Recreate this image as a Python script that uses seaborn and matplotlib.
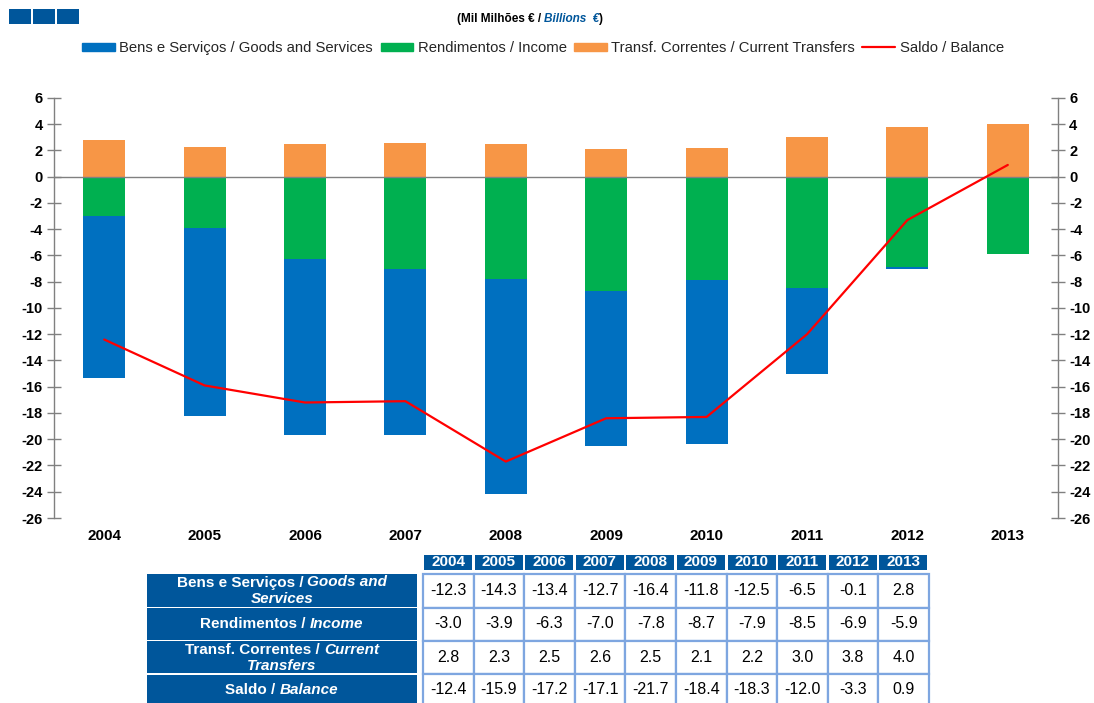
import numpy as np
import pandas as pd
import matplotlib
matplotlib.use("Agg")
import matplotlib.pyplot as plt
import seaborn as sns
from matplotlib.patches import Rectangle, Patch
from matplotlib.lines import Line2D

# ---------------- data ----------------
years = ["2004", "2005", "2006", "2007", "2008", "2009", "2010", "2011", "2012", "2013"]
goods = [-12.3, -14.3, -13.4, -12.7, -16.4, -11.8, -12.5, -6.5, -0.1, 2.8]
income = [-3.0, -3.9, -6.3, -7.0, -7.8, -8.7, -7.9, -8.5, -6.9, -5.9]
transfers = [2.8, 2.3, 2.5, 2.6, 2.5, 2.1, 2.2, 3.0, 3.8, 4.0]
balance = [-12.4, -15.9, -17.2, -17.1, -21.7, -18.4, -18.3, -12.0, -3.3, 0.9]
yticks = list(range(-26, 7, 2))
series_labels = ["Bens e Serviços / Goods and Services", "Rendimentos / Income",
                 "Transf. Correntes / Current Transfers", "Saldo / Balance"]

BLUE = "#0070C0"
GREEN = "#00B050"
ORANGE = "#F79646"
RED = "#FF0000"
DARK = "#00569B"
GRID = "#7EA6E0"
AXC = "#808080"

W, H = 1094, 703
sns.set_theme(style="white")
plt.rcParams['font.family'] = ['Liberation Sans', 'DejaVu Sans']
plt.rcParams['axes.unicode_minus'] = False

fig = plt.figure(figsize=(W / 100, H / 100), dpi=100)
fig.patch.set_facecolor("white")


def fx(x):
    return x / W


def fy(y):
    return 1 - y / H


ax = fig.add_axes([fx(54), fy(518), (1058 - 54) / W, (518 - 98) / H])
ax.set_facecolor("white")

df = pd.DataFrame({"year": years, "goods": goods, "income": income,
                   "transfers": transfers, "balance": balance})
df["goods_stack"] = df["goods"] + df["income"]

sns.barplot(data=df, x="year", y="goods_stack", color=BLUE, saturation=1,
            width=0.42, linewidth=0, ax=ax, errorbar=None)
sns.barplot(data=df, x="year", y="income", color=GREEN, saturation=1,
            width=0.42, linewidth=0, ax=ax, errorbar=None)
sns.barplot(data=df, x="year", y="transfers", color=ORANGE, saturation=1,
            width=0.42, linewidth=0, ax=ax, errorbar=None)
ax.axhline(0, color=AXC, lw=1, zorder=3)
sns.lineplot(x=np.arange(len(years)), y=df["balance"].values, color=RED,
             lw=1.6, ax=ax, zorder=4)

ax.set_xlim(-0.5, len(years) - 0.5)
ax.set_ylim(-26, 6)
ax.set_yticks(yticks)
ax.set_xticks(np.arange(len(years)))
ax.set_xticklabels(years)
ax.set_xlabel("")
ax.set_ylabel("")
for s in ["top", "bottom"]:
    ax.spines[s].set_visible(False)
for s in ["left", "right"]:
    ax.spines[s].set_visible(True)
    ax.spines[s].set_color(AXC)
    ax.spines[s].set_linewidth(1)
ax.tick_params(axis="y", which="both", left=True, right=True, labelleft=True,
               labelright=True, direction="inout", length=10, width=1,
               color=AXC, labelsize=10.5, labelcolor="black", pad=3)
ax.tick_params(axis="x", length=0, labelsize=11, pad=8, labelcolor="black")
for t in ax.yaxis.get_major_ticks():
    t.label1.set_fontweight("bold")
    t.label2.set_fontweight("bold")
for t in ax.get_xticklabels():
    t.set_fontweight("bold")
ax.grid(False)

# ---------------- legend ----------------
handles = [Patch(color=BLUE), Patch(color=GREEN), Patch(color=ORANGE),
           Line2D([0], [0], color=RED, lw=1.6)]
fig.legend(handles, series_labels, loc="center", bbox_to_anchor=(fx(543), fy(48)),
           ncol=4, frameon=False, fontsize=10.7, handlelength=2.2, handleheight=0.42,
           columnspacing=0.5, handletextpad=0.3)

# ---------------- decorations ----------------
for x0 in [9, 33, 57]:
    fig.add_artist(Rectangle((fx(x0), fy(24)), 22 / W, 15 / H, transform=fig.transFigure,
                             facecolor=DARK, edgecolor="none"))

renderer = fig.canvas.get_renderer()


def mixed(parts, cx, cy, size):
    texts = []
    for s, style, color in parts:
        t = fig.text(0, fy(cy), s, fontsize=size, fontweight="bold", fontstyle=style,
                     color=color, ha="left", va="center")
        texts.append(t)
    widths = [t.get_window_extent(renderer).width for t in texts]
    tot = sum(widths)
    x = cx - tot / 2
    for t, w in zip(texts, widths):
        t.set_x(fx(x))
        x += w


mixed([("(Mil Milhões € / ", "normal", "black"), ("Billions  €", "italic", DARK),
       (")", "normal", "black")], 530, 19, 8.5)

# ---------------- table ----------------
x_start, pitch = 423, 50.6
for i, yr in enumerate(years):
    x0 = x_start + 1 + i * pitch
    fig.add_artist(Rectangle((fx(x0), fy(570)), 48 / W, 15 / H, transform=fig.transFigure,
                             facecolor=DARK, edgecolor="none"))
    fig.text(fx(x0 + 24), fy(562.5), yr, color="white", fontsize=11, fontweight="bold",
             ha="center", va="center")

row_bounds = [(574, 607.5), (607.5, 640.5), (640.5, 674), (674, 708)]
label_bounds = [(574, 607), (608, 640), (641, 673), (675, 708)]
row_data = [goods, income, transfers, balance]
for r, (vals, (y0, y1)) in enumerate(zip(row_data, row_bounds)):
    for i, v in enumerate(vals):
        x0 = x_start + i * pitch
        fig.add_artist(Rectangle((fx(x0), fy(y1)), pitch / W, (y1 - y0) / H,
                                 transform=fig.transFigure, facecolor="white",
                                 edgecolor=GRID, lw=1.6))
        fig.text(fx(x0 + pitch / 2), fy((y0 + min(y1, 704)) / 2 + (1 if r == 3 else 0)),
                 f"{v:.1f}", fontsize=11.5, color="black", ha="center", va="center")

for (y0, y1) in label_bounds:
    fig.add_artist(Rectangle((fx(147), fy(y1)), 270 / W, (y1 - y0) / H,
                             transform=fig.transFigure, facecolor=DARK, edgecolor="none"))

lcx = 282
LS = 11
mixed([("Bens e Serviços / ", "normal", "white"), ("Goods and", "italic", "white")], lcx, 582.5, LS)
mixed([("Services", "italic", "white")], lcx, 599, LS)
mixed([("Rendimentos / ", "normal", "white"), ("Income", "italic", "white")], lcx, 624, LS)
mixed([("Transf. Correntes / ", "normal", "white"), ("Current", "italic", "white")], lcx, 649.5, LS)
mixed([("Transfers", "italic", "white")], lcx, 665.5, LS)
mixed([("Saldo / ", "normal", "white"), ("Balance", "italic", "white")], lcx, 690, LS)

fig.savefig("out.png", dpi=100, facecolor="white")
